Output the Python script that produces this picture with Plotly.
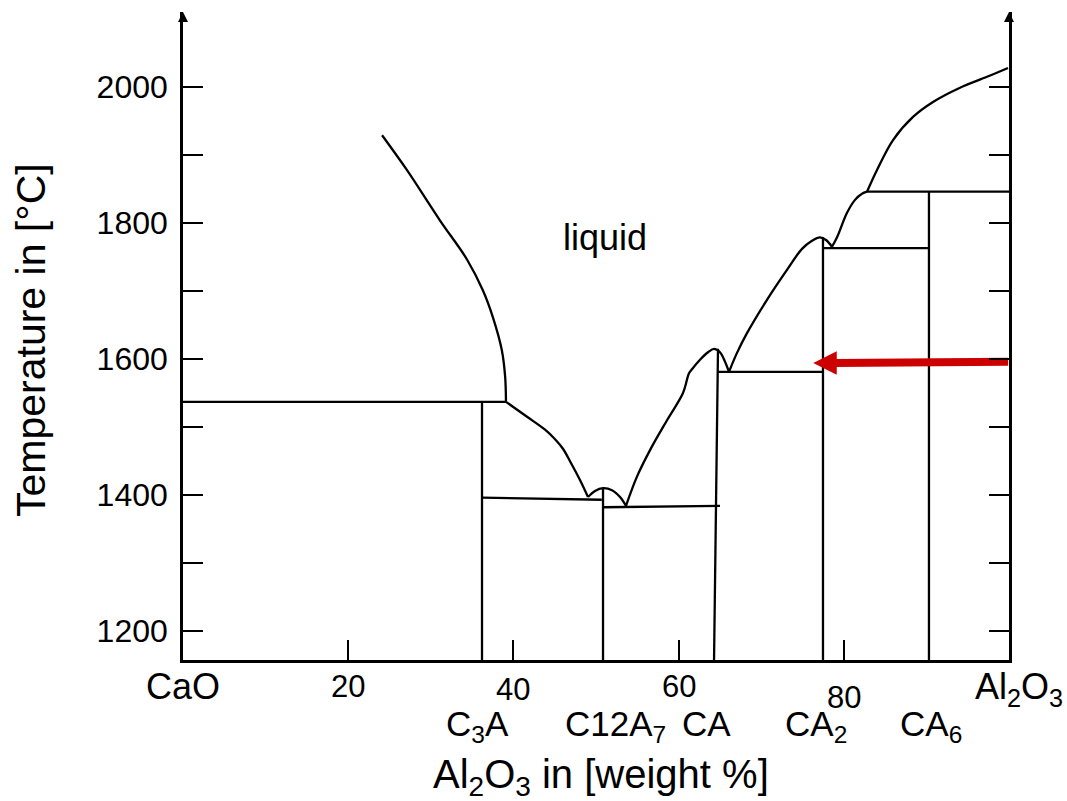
import plotly.graph_objects as go

# ---------------- data (wt% Al2O3, temperature in degC) ----------------
# liquidus of CaO field
liq_cao_x = [24.1, 27.1, 31.1, 34.4, 36.3, 37.5, 38.6, 39.0, 39.1]
liq_cao_t = [1929, 1878, 1804, 1746, 1701, 1662, 1613, 1574, 1537]
# liquidus of C3A field
liq_c3a_x = [39.1, 41.65, 43.83, 45.04, 46.00, 46.97, 48.06, 49.03]
liq_c3a_t = [1537, 1515, 1496, 1482, 1468, 1447, 1422, 1397]
# liquidus of C12A7 (small dome)
liq_c12a7_x = [49.03, 49.88, 50.85, 51.94, 52.91, 53.63]
liq_c12a7_t = [1397, 1406, 1410, 1407, 1397, 1384]
# liquidus of CA field
liq_ca_x = [53.63, 54.96, 56.54, 58.60, 60.53, 61.26, 61.62, 62.59, 63.56, 64.29, 65.01, 65.62, 66.10]
liq_ca_t = [1384, 1427, 1466, 1510, 1550, 1579, 1585, 1599, 1610, 1615, 1610, 1596, 1581]
# liquidus of CA2 field
liq_ca2_x = [66.10, 67.07, 68.28, 70.70, 73.12, 74.94, 76.15, 77.12, 77.85, 78.57]
liq_ca2_t = [1581, 1609, 1638, 1687, 1731, 1762, 1774, 1779, 1775, 1765]
# liquidus of CA6 field
liq_ca6_x = [78.57, 79.18, 80.39, 81.36, 82.20, 82.81]
liq_ca6_t = [1765, 1779, 1815, 1834, 1843, 1846]
# liquidus of Al2O3 field
liq_al2o3_x = [82.81, 84.02, 85.96, 88.38, 90.80, 94.07, 97.34, 99.88]
liq_al2o3_t = [1846, 1878, 1922, 1956, 1978, 1999, 2015, 2028]

# isotherms (solidus lines)
iso_cao_c3a_x = [0.0, 39.1];    iso_cao_c3a_t = [1537, 1537]
iso_c3a_c12_x = [36.2, 50.7];   iso_c3a_c12_t = [1396, 1393]
iso_c12_ca_x = [50.85, 65.01];  iso_c12_ca_t = [1382, 1384]
iso_ca_ca2_x = [64.77, 77.48];  iso_ca_ca2_t = [1581, 1581]
iso_ca2_ca6_x = [77.48, 90.31]; iso_ca2_ca6_t = [1763, 1763]
iso_ca6_al_x = [82.81, 100.1];  iso_ca6_al_t = [1846, 1846]

# compound lines (vertical)
comp_c3a_x = [36.2, 36.2];     comp_c3a_t = [1537, 1157.35]
comp_c12a7_x = [50.85, 50.85]; comp_c12a7_t = [1410, 1157.35]
comp_ca_x = [64.77, 64.29];    comp_ca_t = [1615, 1157.35]
comp_ca2_x = [77.48, 77.48];   comp_ca2_t = [1779, 1157.35]
comp_ca6_x = [90.31, 90.31];   comp_ca6_t = [1846, 1157.35]

# tick values / labels
y_tickvals = [1200, 1400, 1600, 1800, 2000]
y_ticktext = ["1200", "1400", "1600", "1800", "2000"]
y_minorvals = [1300, 1500, 1700, 1900]
x_tickvals = [20, 40, 60, 80]
x_ticktext = ["20", "40", "60", "80"]

# compounds shown under the axis
compound_names = ["C<sub>3</sub>A", "C12A<sub>7</sub>", "CA", "CA<sub>2</sub>", "CA<sub>6</sub>"]
compound_label_x = [35.7, 52.4, 63.4, 76.6, 90.6]

# red arrow (cooling path)
arrow_tail_x, arrow_tail_t = 99.9, 1596
arrow_head_x, arrow_head_t = 76.3, 1594

# ---------------- layout geometry ----------------
W, H = 1067, 801
ML, MR, MT, MB = 183, 58, 12, 141
X_RANGE = [0, 100]
Y_RANGE = [1157.35, 2110.3]
PW = W - ML - MR
PH = H - MT - MB
SX = PW / (X_RANGE[1] - X_RANGE[0])   # px per wt%


def ypaper(py):
    return (H - MB - py) / PH


def xpaper(px):
    return (px - ML) / PW


FONT = "Liberation Sans, Arial, sans-serif"
LW = 2.3
AXW = 2.6
RED = "#CC0000"

fig = go.Figure()

segments = [
    (liq_cao_x, liq_cao_t), (liq_c3a_x, liq_c3a_t), (liq_c12a7_x, liq_c12a7_t),
    (liq_ca_x, liq_ca_t), (liq_ca2_x, liq_ca2_t), (liq_ca6_x, liq_ca6_t),
    (liq_al2o3_x, liq_al2o3_t),
    (iso_cao_c3a_x, iso_cao_c3a_t), (iso_c3a_c12_x, iso_c3a_c12_t),
    (iso_c12_ca_x, iso_c12_ca_t), (iso_ca_ca2_x, iso_ca_ca2_t),
    (iso_ca2_ca6_x, iso_ca2_ca6_t), (iso_ca6_al_x, iso_ca6_al_t),
    (comp_c3a_x, comp_c3a_t), (comp_c12a7_x, comp_c12a7_t), (comp_ca_x, comp_ca_t),
    (comp_ca2_x, comp_ca2_t), (comp_ca6_x, comp_ca6_t),
]
for xs, ts in segments:
    fig.add_trace(go.Scatter(x=xs, y=ts, mode="lines",
                             line=dict(color="black", width=LW, shape="spline", smoothing=1.0),
                             hoverinfo="skip", showlegend=False))

# arrow heads on top of both vertical axes
fig.add_trace(go.Scatter(x=X_RANGE, y=[Y_RANGE[1], Y_RANGE[1]], mode="markers",
                         marker=dict(symbol="arrow-up", size=10, color="black",
                                     line=dict(width=0)),
                         cliponaxis=False, hoverinfo="skip", showlegend=False))

# red arrow: shaft + head
HEAD = 23.5
shaft_end_x = arrow_head_x + (HEAD - 3) / SX
fig.add_trace(go.Scatter(x=[arrow_tail_x, shaft_end_x], y=[arrow_tail_t, arrow_head_t],
                         mode="lines", line=dict(color=RED, width=8),
                         hoverinfo="skip", showlegend=False))
fig.add_trace(go.Scatter(x=[arrow_head_x], y=[arrow_head_t], mode="markers",
                         marker=dict(symbol="arrow-left", size=HEAD, color=RED,
                                     line=dict(width=0)),
                         cliponaxis=False, hoverinfo="skip", showlegend=False))

annotations = []
# liquid label
annotations.append(dict(x=51.1, y=1779, xref="x", yref="y", text="liquid", showarrow=False,
                        xanchor="center", yanchor="middle",
                        font=dict(family=FONT, size=36, color="black")))
# x tick labels
x_label_py = [686, 689, 686, 697]
for xv, txt, py in zip(x_tickvals, x_ticktext, x_label_py):
    annotations.append(dict(x=xv, y=ypaper(py), xref="x", yref="paper", text=txt,
                            xanchor="center", yanchor="middle",
                            showarrow=False, font=dict(family=FONT, size=31, color="black")))
# end member labels
annotations.append(dict(x=xpaper(183), y=ypaper(664), xref="paper", yref="paper", text="CaO",
                        xanchor="center", yanchor="top",
                        showarrow=False, font=dict(family=FONT, size=36, color="black")))
annotations.append(dict(x=xpaper(1019), y=ypaper(664), xref="paper", yref="paper",
                        text="Al<sub>2</sub>O<sub>3</sub>", xanchor="center", yanchor="top",
                        showarrow=False, font=dict(family=FONT, size=36, color="black")))
# compound labels
for xv, txt in zip(compound_label_x, compound_names):
    annotations.append(dict(x=xv, y=ypaper(702), xref="x", yref="paper", text=txt,
                            xanchor="center", yanchor="top",
                            showarrow=False, font=dict(family=FONT, size=35, color="black")))
# axis titles
annotations.append(dict(x=xpaper(601), y=ypaper(750), xref="paper", yref="paper",
                        text="Al<sub>2</sub>O<sub>3</sub> in [weight %]", showarrow=False,
                        xanchor="center", yanchor="top",
                        font=dict(family=FONT, size=40, color="black")))
annotations.append(dict(x=xpaper(31), y=ypaper(340), xref="paper", yref="paper",
                        text="Temperature in [°C]", textangle=-90, showarrow=False,
                        xanchor="center", yanchor="middle",
                        font=dict(family=FONT, size=41, color="black")))

fig.update_layout(
    width=W, height=H,
    margin=dict(l=ML, r=MR, t=MT, b=MB, pad=0),
    paper_bgcolor="white", plot_bgcolor="white",
    showlegend=False,
    annotations=annotations,
    xaxis=dict(range=X_RANGE, showgrid=False, zeroline=False, showline=True,
               linecolor="black", linewidth=AXW, ticks="inside", ticklen=20, tickwidth=2.4,
               tickcolor="black", tickvals=x_tickvals, showticklabels=False, fixedrange=True),
    yaxis=dict(range=Y_RANGE, showgrid=False, zeroline=False, showline=True, mirror="ticks",
               linecolor="black", linewidth=AXW,
               ticks="inside", ticklen=20, tickwidth=2.4,
               tickcolor="black", tickvals=y_tickvals, ticktext=y_ticktext,
               minor=dict(tickvals=y_minorvals, ticks="inside", ticklen=20, tickwidth=2.4,
                          tickcolor="black", showgrid=False),
               tickfont=dict(family=FONT, size=32, color="black"), ticklabelstandoff=6,
               fixedrange=True),
)

fig.write_html("out.html")
